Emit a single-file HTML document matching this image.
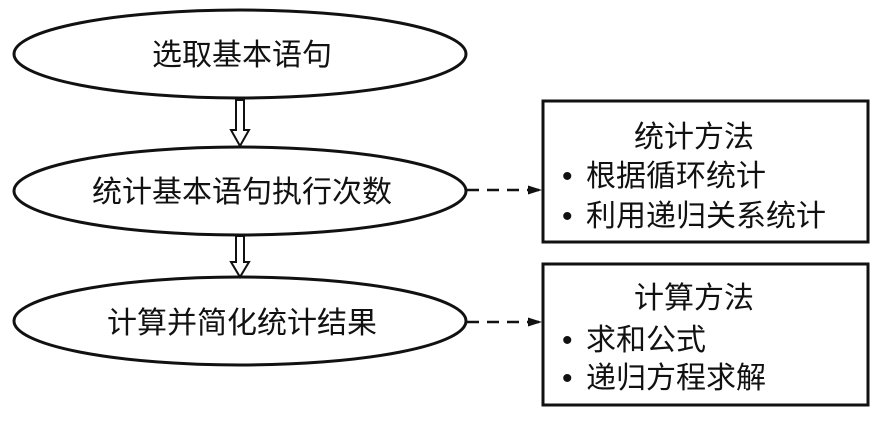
<!DOCTYPE html>
<html><head><meta charset="utf-8"><style>
html,body{margin:0;padding:0;background:#fff;}
svg text{font-family:"Liberation Sans","Noto Sans CJK SC",sans-serif;fill:#111;}
</style></head><body>
<svg width="880" height="417" viewBox="0 0 880 417" xmlns="http://www.w3.org/2000/svg">
<defs><marker id="a" markerWidth="14" markerHeight="9" refX="13" refY="4.5" orient="auto" markerUnits="userSpaceOnUse"><path d="M0,0 L14,4.5 L0,9 Z" fill="#111"/></marker></defs>
<g fill="none" stroke="#111" stroke-width="3">
<ellipse cx="240" cy="54" rx="226" ry="44"/>
<ellipse cx="240" cy="191" rx="226" ry="44"/>
<ellipse cx="240" cy="321" rx="226" ry="44"/>
<rect x="543" y="101" width="325" height="141"/>
<rect x="543" y="264" width="325" height="141"/>
</g>
<g fill="#fff" stroke="#111" stroke-width="2">
<path d="M236,100 L236,130 L231,130 L240,146 L249,130 L244,130 L244,100 Z"/>
<path d="M236,236 L236,262 L231,262 L240,277 L249,262 L244,262 L244,236 Z"/>
</g>
<g stroke="#111" stroke-width="2.5" stroke-dasharray="12,8">
<line x1="467" y1="190" x2="541" y2="190" marker-end="url(#a)"/>
<line x1="467" y1="322" x2="541" y2="322" marker-end="url(#a)"/>
</g>
<g font-size="30" text-anchor="middle">
<text x="242" y="65">选取基本语句</text>
<text x="242" y="202">统计基本语句执行次数</text>
<text x="242" y="333">计算并简化统计结果</text>
</g>
<g font-size="30">
<text x="694" y="147" text-anchor="middle">统计方法</text>
<text x="562" y="186">•</text><text x="586" y="186">根据循环统计</text>
<text x="562" y="226">•</text><text x="586" y="226">利用递归关系统计</text>
<text x="694" y="308" text-anchor="middle">计算方法</text>
<text x="562" y="350">•</text><text x="586" y="350">求和公式</text>
<text x="562" y="388">•</text><text x="586" y="388">递归方程求解</text>
</g>
</svg>
</body></html>
